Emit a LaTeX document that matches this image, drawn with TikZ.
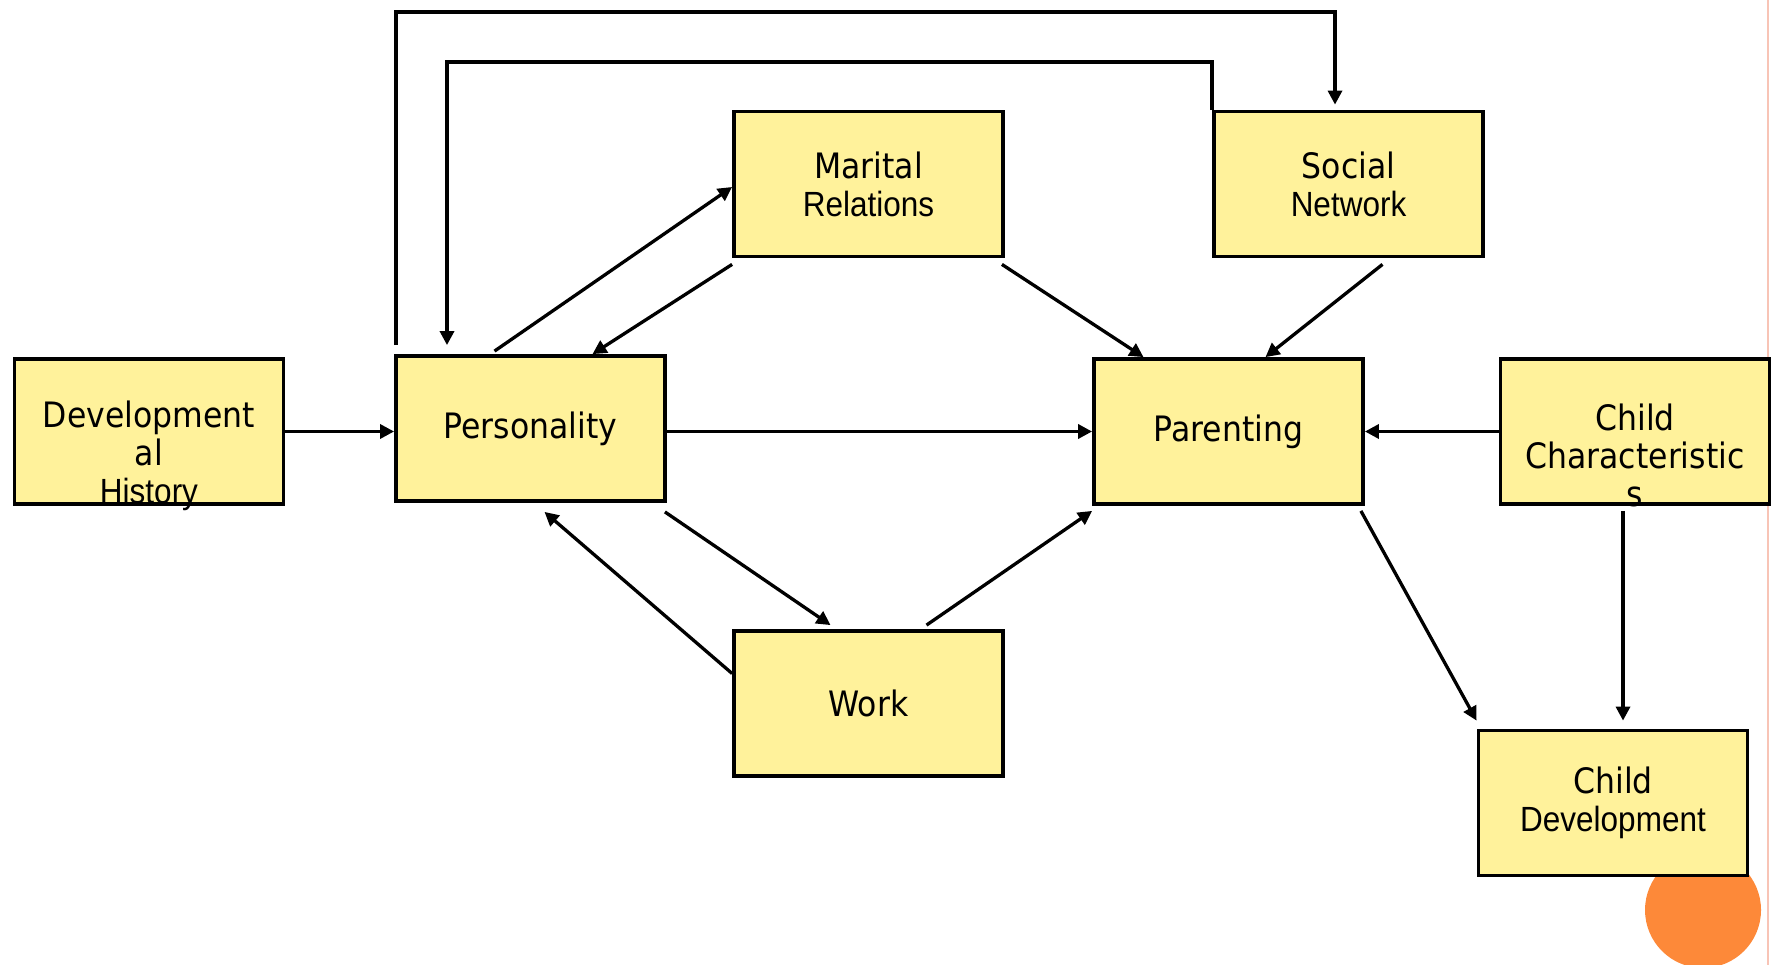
\documentclass[tikz,border=0pt]{standalone}
\usepackage{fontspec}
\newfontfamily\verd[FakeStretch=0.9]{DejaVu Sans}
\newfontfamily\arl[FakeStretch=0.9]{Liberation Sans}
\definecolor{boxyellow}{RGB}{255,242,155}
\definecolor{dotorange}{RGB}{253,137,57}
\definecolor{edgepink}{RGB}{248,196,182}
\usetikzlibrary{arrows.meta}
\usetikzlibrary{calc}
\tikzset{
  factor/.style={draw=black, line width=3.8pt, fill=boxyellow, minimum width=269pt, minimum height=145pt,
    inner sep=0pt, align=center, font=\verd\fontsize{35}{38}\selectfont},
  factortext/.style={align=center, inner sep=0pt, font=\verd\fontsize{35}{38}\selectfont},
  link/.style={line width=3.3pt, -{Triangle[length=14pt,width=14pt]}},
}

\begin{document}
\begin{tikzpicture}[x=1pt,y=-1pt]
  \useasboundingbox (0,0) rectangle (1771,965);
  \draw [edgepink, line width=2pt] (1768,0) -- (1768,965);
  \fill [dotorange] (1703,910) circle (58pt);

  \node [factor] (dev) at (149,431.5) {};
  \node [factortext] (devtxt) at ([yshift=-24pt]dev.center) {Development\\al\\\arl History};
  \node [factor] (pers) at (530.5,428.5) {Personality};
  \node [factor] (mar) at (868.5,184) {Marital\\\arl Relations};
  \node [factor] (soc) at (1348.5,184) {Social\\\arl Network};
  \node [factor] (par) at (1228.5,431.5) {Parenting};
  \node [factor] (chr) at (1635,431.5) {};
  \node [factortext] (chrtxt) at ([yshift=-24pt]chr.center) {Child\\Characteristic\\s};
  \node [factor] (work) at (868.5,703.5) {Work};
  \node [factor] (cdev) at (1613,803) {Child\\\arl Development};

  \draw [link] (dev.east) -- (dev.east -| pers.west);
  \draw [link] (pers.east |- par.west) -- (par.west);
  \draw [link] (chr.west) -- (par.east);
  \draw [link] ([xshift=-36pt,yshift=3pt]pers.north) -- ([yshift=-3pt]mar.west);
  \draw [link] ([yshift=-6pt]mar.south west) -- ([xshift=62pt]pers.north);
  \draw [link] ([xshift=-3pt,yshift=-6pt]mar.south east) -- ([xshift=-85pt]par.north);
  \draw [link] ([xshift=34pt,yshift=-6pt]soc.south) -- ([xshift=37pt]par.north);
  \draw [link] ([xshift=-2pt,yshift=-9pt]pers.south east) -- ([xshift=-38pt,yshift=4pt]work.north);
  \draw [link] ([yshift=30pt]work.west) -- ([xshift=14pt,yshift=-9pt]pers.south);
  \draw [link] ([xshift=58pt,yshift=4pt]work.north) -- ([yshift=-5pt]par.south west);
  \draw [link] ([xshift=-4pt,yshift=-5pt]par.south east) -- ([yshift=8pt]cdev.north west);
  \draw [link] ([xshift=-12pt,yshift=-5pt]chr.south) -- ([xshift=10pt,yshift=8pt]cdev.north);

  % feedback loops over the top
  \coordinate (overA) at (1335,12);
  \coordinate (overB) at (447,62);
  \draw [link] ([xshift=2pt,yshift=9pt]pers.north west) |- (overA) -- ([yshift=5pt]soc.north -| overA);
  \draw [link] (soc.north west) |- (overB) -- ([yshift=9pt]pers.north west -| overB);
\end{tikzpicture}
\end{document}
